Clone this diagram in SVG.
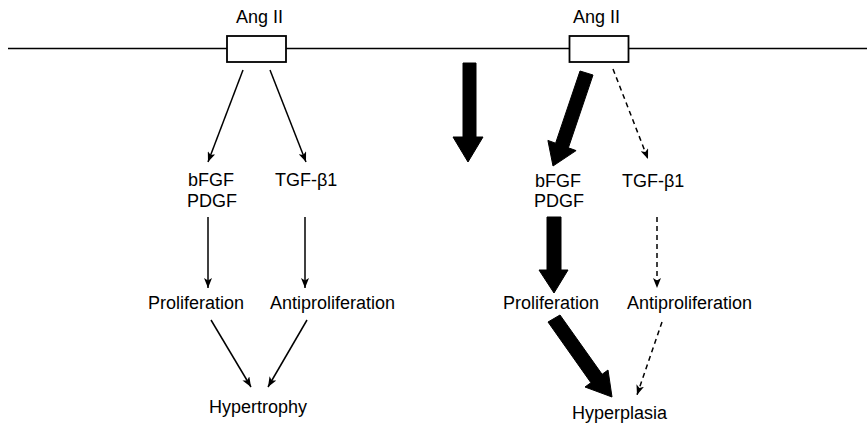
<svg xmlns="http://www.w3.org/2000/svg" width="868" height="426" viewBox="0 0 868 426">
<style>
  text { font-family: "Liberation Sans", Arial, sans-serif; font-size: 18px; fill: #000; }
  .thin { stroke: #000; stroke-width: 1.5; fill: none; marker-end: url(#ah); }
  .dash { stroke: #000; stroke-width: 1.5; fill: none; stroke-dasharray: 5 4; marker-end: url(#ah); }
  .block { fill: #000; stroke: #000; stroke-width: 1; stroke-linejoin: miter; }
  .box { fill: #fff; stroke: #000; stroke-width: 1.8; }
</style>
<defs>
  <marker id="ah" markerUnits="userSpaceOnUse" markerWidth="10" markerHeight="8" refX="10" refY="4" orient="auto">
    <path d="M0,0 L10,4 L0,8 L2.5,4 z" fill="#000"/>
  </marker>
</defs>
<rect width="868" height="426" fill="#fff"/>
<line x1="8" y1="48.5" x2="867" y2="48.5" stroke="#000" stroke-width="1.5"/>

<g id="angii-left">
  <rect class="box" x="227" y="36" width="59" height="26"/>
  <text x="236" y="23">Ang II</text>
</g>
<g id="angii-right">
  <rect class="box" x="569.5" y="36" width="59" height="26"/>
  <text x="573" y="23">Ang II</text>
</g>

<g id="growth-left"><text x="188" y="186">bFGF</text><text x="187" y="207">PDGF</text></g>
<g id="tgf-left"><text x="275" y="186">TGF-β1</text></g>
<g id="prolif-left"><text x="148" y="309">Proliferation</text></g>
<g id="antiprolif-left"><text x="270" y="309">Antiproliferation</text></g>
<g id="hypertrophy"><text x="209" y="413">Hypertrophy</text></g>

<g id="growth-right"><text x="535" y="187">bFGF</text><text x="534" y="207">PDGF</text></g>
<g id="tgf-right"><text x="622" y="187">TGF-β1</text></g>
<g id="prolif-right"><text x="503" y="309">Proliferation</text></g>
<g id="antiprolif-right"><text x="627" y="309">Antiproliferation</text></g>
<g id="hyperplasia"><text x="572" y="419">Hyperplasia</text></g>

<g id="connectors">
  <line class="thin" x1="243" y1="70" x2="208" y2="162"/>
  <line class="thin" x1="270" y1="70" x2="306" y2="162"/>
  <line class="thin" x1="208" y1="217" x2="208" y2="288"/>
  <line class="thin" x1="305" y1="217" x2="305" y2="288"/>
  <line class="thin" x1="211" y1="320" x2="251" y2="387"/>
  <line class="thin" x1="307" y1="320" x2="268" y2="387"/>

  <polygon class="block" points="463,63 476,63 476,137 483,137 468,162 453,137 463,137"/>
  <polygon class="block" points="580,71 593,75 568.4,147.8 576.1,150.6 553,166 547.9,140.4 555.6,143.2"/>
  <polygon class="block" points="547,217 561,217 561,270 568,270 554,293 539,270 547,270"/>
  <polygon class="block" points="560,315 602.1,374.3 608,370 612,397 585,387 590.9,382.7 548,322"/>

  <line class="dash" x1="613" y1="69" x2="648" y2="159"/>
  <line class="dash" x1="657" y1="217" x2="657" y2="288"/>
  <line class="dash" x1="662" y1="322" x2="637" y2="395"/>
</g>
</svg>
